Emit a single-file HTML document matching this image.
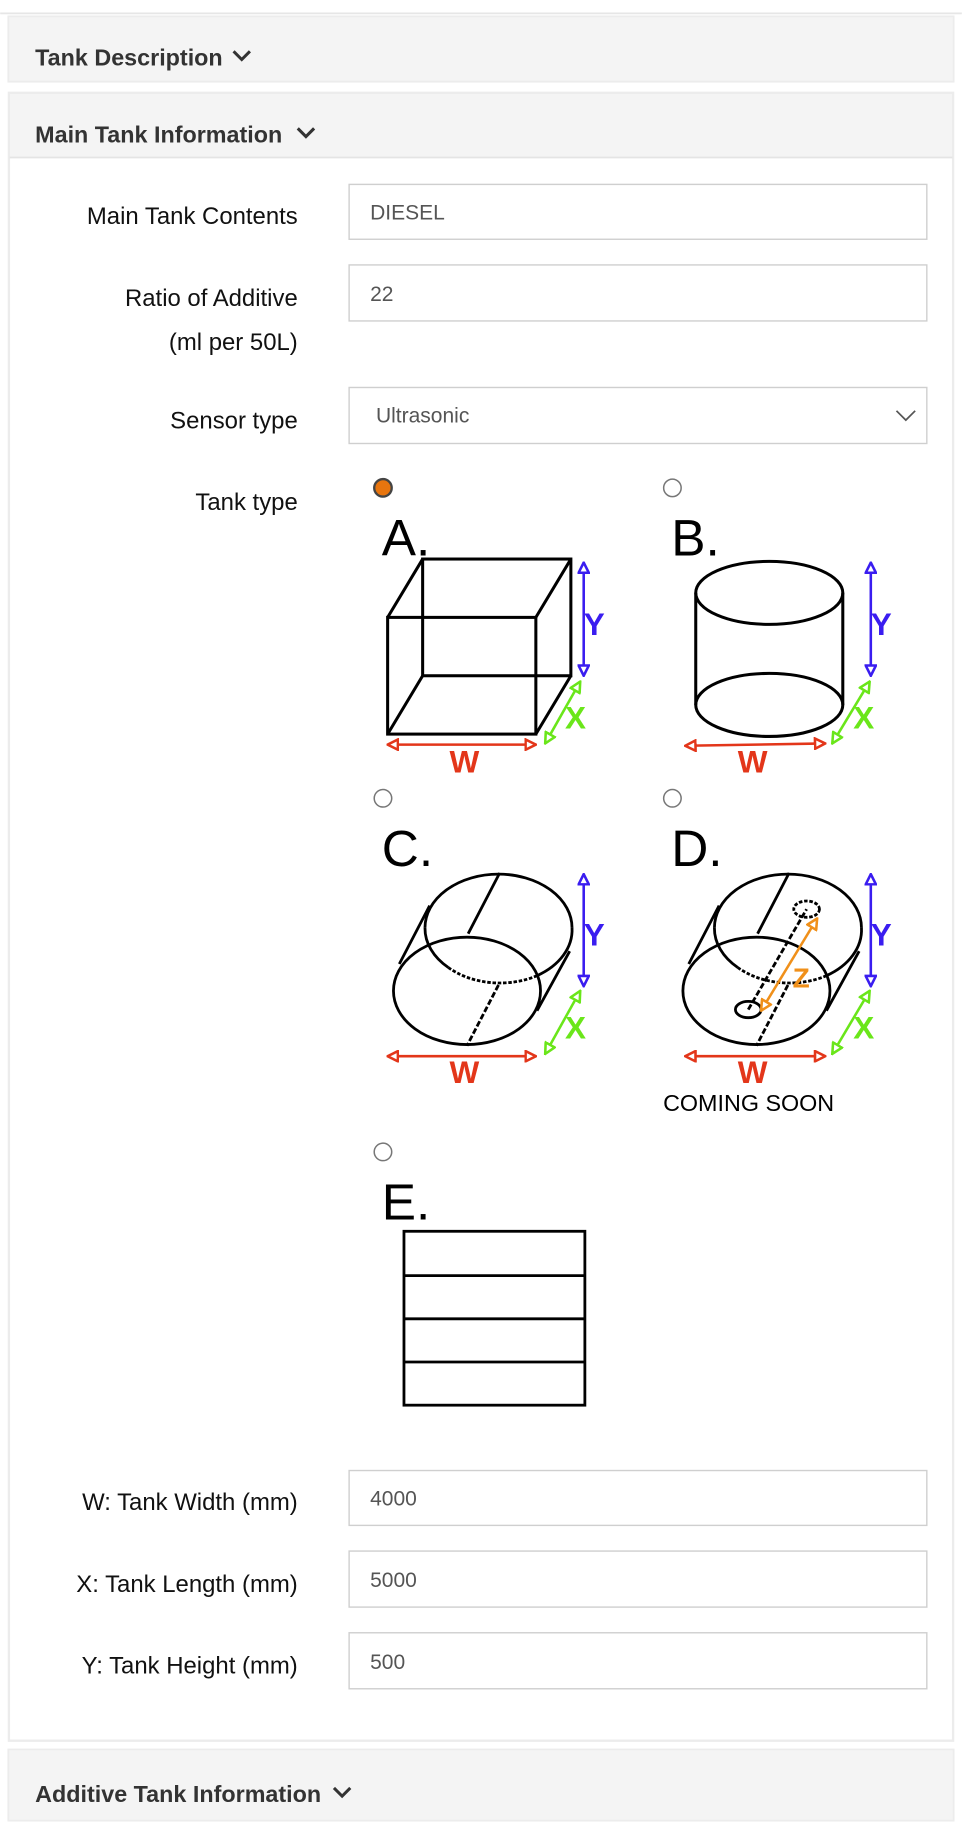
<!DOCTYPE html>
<html><head><meta charset="utf-8"><style>html,body{margin:0;padding:0;background:#fff}svg{display:block}</style></head>
<body>
<svg width="962" height="1830" viewBox="0 0 824 1568" xmlns="http://www.w3.org/2000/svg" font-family="Liberation Sans, sans-serif">
<defs>
<marker id="ab" viewBox="0 0 10 10" refX="9" refY="5" markerWidth="5" markerHeight="5" orient="auto-start-reverse"><path d="M1,1 L9,5 L1,9 Z" fill="#fff" stroke="#3a1df0" stroke-width="2"/></marker>
<marker id="ag" viewBox="0 0 10 10" refX="9" refY="5" markerWidth="5" markerHeight="5" orient="auto-start-reverse"><path d="M1,1 L9,5 L1,9 Z" fill="#fff" stroke="#6ae61a" stroke-width="2"/></marker>
<marker id="ar" viewBox="0 0 10 10" refX="9" refY="5" markerWidth="5" markerHeight="5" orient="auto-start-reverse"><path d="M1,1 L9,5 L1,9 Z" fill="#fff" stroke="#e3361a" stroke-width="2"/></marker>
<marker id="ao" viewBox="0 0 10 10" refX="9" refY="5" markerWidth="5" markerHeight="5" orient="auto-start-reverse"><path d="M1,1 L9,5 L1,9 Z" fill="#fff" stroke="#f0901a" stroke-width="2"/></marker>
</defs>
<rect x="0" y="0" width="824" height="1568" fill="#fff"/>
<line x1="0" y1="11.5" x2="824" y2="11.5" stroke="#e6e6e6" stroke-width="1.5"/>
<rect x="7" y="14" width="810" height="56" fill="#f4f4f4" stroke="#ececec" stroke-width="1.5"/>
<text x="30" y="56" font-size="20" font-weight="bold" fill="#333">Tank Description</text>
<path d="M200,44 l7,7 l7,-7" fill="none" stroke="#333" stroke-width="2.6"/>
<rect x="7.5" y="79.5" width="809" height="1412" fill="#fff" stroke="#ececec" stroke-width="2"/>
<rect x="8.5" y="80.5" width="807" height="54" fill="#f4f4f4"/>
<line x1="8" y1="135" x2="816" y2="135" stroke="#e4e4e4" stroke-width="1.5"/>
<text x="30" y="122" font-size="20" font-weight="bold" fill="#333">Main Tank Information</text>
<path d="M255,110 l7,7 l7,-7" fill="none" stroke="#333" stroke-width="2.6"/>
<g font-size="20.5" fill="#111" text-anchor="end">
<text x="255" y="192">Main Tank Contents</text>
<text x="255" y="262">Ratio of Additive</text>
<text x="255" y="300">(ml per 50L)</text>
<text x="255" y="367">Sensor type</text>
<text x="255" y="437">Tank type</text>
<text x="255" y="1294">W: Tank Width (mm)</text>
<text x="255" y="1364">X: Tank Length (mm)</text>
<text x="255" y="1434">Y: Tank Height (mm)</text>
</g>
<g fill="#fff" stroke="#cfcfcf" stroke-width="1.2">
<rect x="299" y="158" width="495" height="47"/>
<rect x="299" y="227" width="495" height="48"/>
<rect x="299" y="332" width="495" height="48"/>
<rect x="299" y="1260" width="495" height="47"/>
<rect x="299" y="1329" width="495" height="48"/>
<rect x="299" y="1399" width="495" height="48"/>
</g>
<g font-size="18" fill="#555">
<text x="317" y="188">DIESEL</text>
<text x="317" y="258">22</text>
<text x="322" y="362">Ultrasonic</text>
<text x="317" y="1290">4000</text>
<text x="317" y="1360">5000</text>
<text x="317" y="1430">500</text>
</g>
<path d="M768,352 l8,8 l8,-8" fill="none" stroke="#555" stroke-width="1.5"/>
<circle cx="328" cy="418" r="7.5" fill="#e8750e" stroke="#444" stroke-width="2"/>
<g fill="#fff" stroke="#777" stroke-width="1.3">
<circle cx="576" cy="418" r="7.5"/><circle cx="328" cy="684" r="7.5"/><circle cx="576" cy="684" r="7.5"/><circle cx="328" cy="987" r="7.5"/>
</g>
<g font-size="44" fill="#000">
<text x="327" y="476">A.</text><text x="575" y="476">B.</text><text x="327" y="742">C.</text><text x="575" y="742">D.</text><text x="327" y="1045">E.</text>
</g>
<g fill="none" stroke="#000" stroke-width="2.6">
<rect x="332" y="529" width="127" height="100"/>
<rect x="362" y="479" width="127" height="100"/>
<path d="M332,529 L362,479 M459,529 L489,479 M332,629 L362,579 M459,629 L489,579"/>
</g>
<g fill="none" stroke="#000" stroke-width="2.6">
<ellipse cx="659" cy="508" rx="63" ry="27"/>
<path d="M596,508 L596,604 M722,508 L722,604"/>
<ellipse cx="659" cy="604" rx="63" ry="27"/>
</g>
<g fill="none" stroke="#000" stroke-width="2.4">
<path d="M364,795 A63,46 0 1 1 490,795" /><path d="M364,795 A63,46 0 0 0 384,829"/><path d="M490,795 A63,46 0 0 1 460,836"/>
<path d="M384,829 A63,46 0 0 0 460,836" stroke-dasharray="3,1.5"/>
<ellipse cx="400" cy="849" rx="63" ry="46"/>
<path d="M342,826 L368,776 M460,866 L488,815 M428,748 L401,800"/>
<path d="M427,844 L400,896" stroke-dasharray="5,2"/>
</g>
<g fill="none" stroke="#000" stroke-width="2.4">
<path d="M612,795 A63,46 0 1 1 738,795"/><path d="M612,795 A63,46 0 0 0 632,829"/><path d="M738,795 A63,46 0 0 1 708,836"/>
<path d="M632,829 A63,46 0 0 0 708,836" stroke-dasharray="3,1.5"/>
<ellipse cx="648" cy="849" rx="63" ry="46"/>
<path d="M590,826 L616,776 M708,866 L736,815 M676,748 L649,800"/>
<path d="M675,844 L648,896" stroke-dasharray="5,2"/>
<ellipse cx="691" cy="779" rx="11" ry="7" stroke-dasharray="3,1.5"/>
<ellipse cx="641" cy="865" rx="11" ry="7"/>
<path d="M641,865 L691,779" stroke-dasharray="5,2"/>
</g>
<line x1="652" y1="866" x2="700" y2="787" stroke="#f0901a" stroke-width="2.2" marker-start="url(#ao)" marker-end="url(#ao)"/>
<text x="679" y="846" font-size="24" font-weight="bold" fill="#f0901a">Z</text>
<g stroke-width="2.2">
<line x1="500" y1="482" x2="500" y2="579" stroke="#3a1df0" marker-start="url(#ab)" marker-end="url(#ab)"/>
<line x1="746" y1="482" x2="746" y2="579" stroke="#3a1df0" marker-start="url(#ab)" marker-end="url(#ab)"/>
<line x1="500" y1="749" x2="500" y2="845" stroke="#3a1df0" marker-start="url(#ab)" marker-end="url(#ab)"/>
<line x1="746" y1="749" x2="746" y2="845" stroke="#3a1df0" marker-start="url(#ab)" marker-end="url(#ab)"/>
<line x1="467" y1="637" x2="497" y2="584" stroke="#6ae61a" marker-start="url(#ag)" marker-end="url(#ag)"/>
<line x1="713" y1="637" x2="745" y2="584" stroke="#6ae61a" marker-start="url(#ag)" marker-end="url(#ag)"/>
<line x1="467" y1="903" x2="497" y2="849" stroke="#6ae61a" marker-start="url(#ag)" marker-end="url(#ag)"/>
<line x1="713" y1="903" x2="745" y2="849" stroke="#6ae61a" marker-start="url(#ag)" marker-end="url(#ag)"/>
<line x1="332" y1="638" x2="459" y2="638" stroke="#e3361a" marker-start="url(#ar)" marker-end="url(#ar)"/>
<line x1="587" y1="639" x2="707" y2="637" stroke="#e3361a" marker-start="url(#ar)" marker-end="url(#ar)"/>
<line x1="332" y1="905" x2="459" y2="905" stroke="#e3361a" marker-start="url(#ar)" marker-end="url(#ar)"/>
<line x1="587" y1="905" x2="707" y2="905" stroke="#e3361a" marker-start="url(#ar)" marker-end="url(#ar)"/>
</g>
<g font-size="27" font-weight="bold">
<text x="500" y="544" fill="#3a1df0">Y</text><text x="746" y="544" fill="#3a1df0">Y</text>
<text x="500" y="810" fill="#3a1df0">Y</text><text x="746" y="810" fill="#3a1df0">Y</text>
<text x="484" y="624" fill="#6ae61a">X</text><text x="731" y="624" fill="#6ae61a">X</text>
<text x="484" y="890" fill="#6ae61a">X</text><text x="731" y="890" fill="#6ae61a">X</text>
<text x="385" y="662" fill="#e3361a">W</text><text x="632" y="662" fill="#e3361a">W</text>
<text x="385" y="928" fill="#e3361a">W</text><text x="632" y="928" fill="#e3361a">W</text>
</g>
<text x="568" y="952" font-size="20" fill="#000">COMING SOON</text>
<g fill="none" stroke="#000" stroke-width="2.4">
<rect x="346" y="1055" width="155" height="149"/>
<path d="M346,1093 H501 M346,1130 H501 M346,1167 H501"/>
</g>
<rect x="7" y="1499" width="810" height="61" fill="#f4f4f4" stroke="#ececec" stroke-width="1.5"/>
<text x="30" y="1544" font-size="20" font-weight="bold" fill="#333">Additive Tank Information</text>
<path d="M286,1532 l7,7 l7,-7" fill="none" stroke="#333" stroke-width="2.6"/>
</svg>
</body></html>
